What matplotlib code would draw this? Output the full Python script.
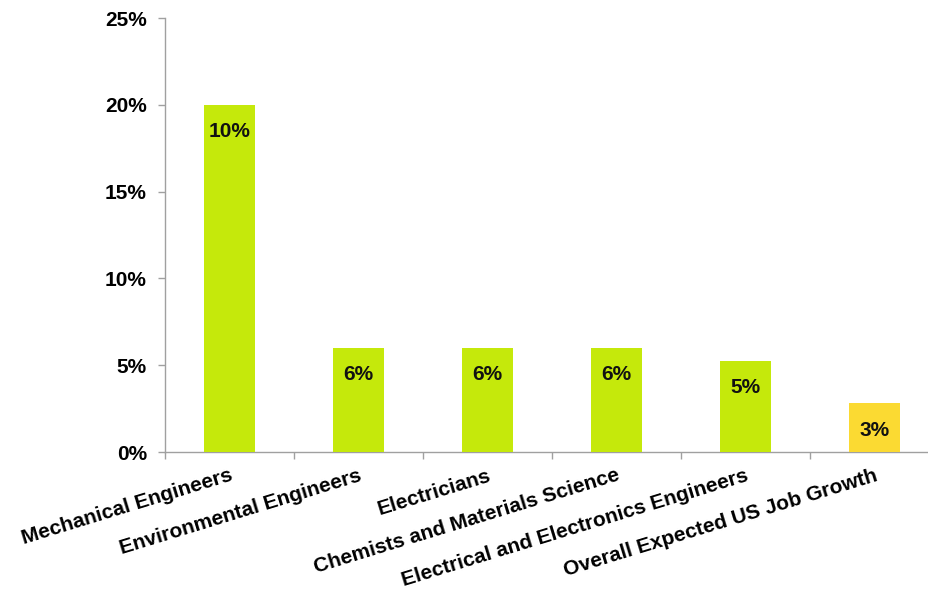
import matplotlib
matplotlib.use("Agg")
import matplotlib.pyplot as plt
import numpy as np

categories = ["Mechanical Engineers", "Environmental Engineers", "Electricians",
              "Chemists and Materials Science", "Electrical and Electronics Engineers",
              "Overall Expected US Job Growth"]
values = [20.0, 6.0, 6.0, 6.0, 5.25, 2.8]
bar_labels = ["10%", "6%", "6%", "6%", "5%", "3%"]
colors = ["#C5E90B"] * 5 + ["#FBDA32"]
yticks = [0, 5, 10, 15, 20, 25]
ytick_labels = ["0%", "5%", "10%", "15%", "20%", "25%"]

plt.rcParams['font.family'] = ['Liberation Sans', 'DejaVu Sans']

W, H = 929, 594
fig = plt.figure(figsize=(W/100, H/100), dpi=100)
left, right, top, bottom = 165, 939, 18, 452
ax = fig.add_axes([left/W, 1 - bottom/H, (right-left)/W, (bottom-top)/H])

x = np.arange(len(categories))
ax.bar(x, values, width=0.4, color=colors, zorder=3)
for xi, v, lab in zip(x, values, bar_labels):
    ax.annotate(lab, (xi, v), xytext=(0, -27), textcoords="offset pixels",
                ha="center", va="center", fontsize=15, fontweight="bold", color="#111111")

ax.set_xlim(-0.5, len(categories) - 0.5)
ax.set_ylim(0, 25)
ax.set_yticks(yticks)
ax.set_yticklabels(ytick_labels, fontsize=15, fontweight="bold")
ax.tick_params(axis='y', length=5, width=1, color="#A0A0A0", pad=8)

ax.set_xticks(np.arange(len(categories) + 1) - 0.5, minor=False)
ax.set_xticklabels([""] * (len(categories) + 1))
ax.tick_params(axis='x', length=5, width=1, color="#A0A0A0")
ax.set_xticks(x, minor=True)
ax.set_xticklabels(categories, minor=True, rotation=17, ha="right", rotation_mode="anchor",
                   fontsize=15, fontweight="bold")
ax.tick_params(axis='x', which='minor', length=0, pad=10)

for s in ["top", "right"]:
    ax.spines[s].set_visible(False)
for s in ["left", "bottom"]:
    ax.spines[s].set_color("#A0A0A0")
    ax.spines[s].set_linewidth(1)

fig.savefig("out.png", dpi=100)
